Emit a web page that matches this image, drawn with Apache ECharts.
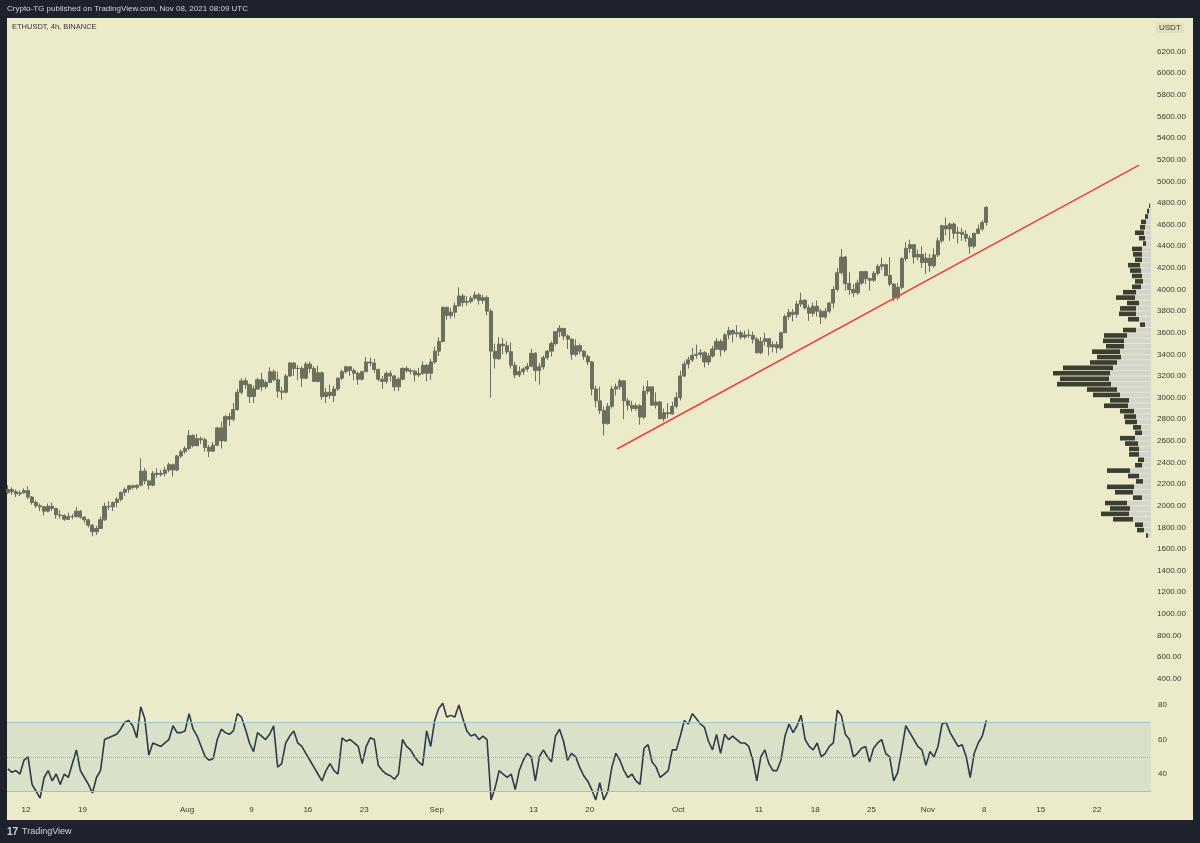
<!DOCTYPE html>
<html>
<head>
<meta charset="utf-8">
<title>ETHUSDT, 4h, BINANCE</title>
<script src="https://cdn.jsdelivr.net/npm/echarts@6/dist/echarts.min.js"></script>
<style>
  html, body { margin: 0; padding: 0; background: #1e222d; }
  #chart { width: 1200px; height: 843px; }
</style>
</head>
<body>
<div id="chart"></div>
<script>
// 12h candles, first one opens Jul 9 2021 12:00 UTC
var firstOpen = 2120;
var closes = [
  2150,
  2130,2110, 2120,2140, 2080,2030, 2000,1990, 1950,1995, 1975,1915, 1910,1875, 1900,1900, 1950,1895, 1870,1820, 1760,1790,
  1870,1995, 1990,2030, 2060,2125, 2150,2185, 2170,2190, 2320,2230, 2190,2300, 2290,2300, 2330,2380, 2330,2460, 2500,2530,
  // Aug
  2650,2555, 2620,2610, 2540,2505, 2560,2720, 2600,2825, 2800,2890, 3050,3155, 3120,3010, 3080,3165, 3100,3140, 3240,3165,
  3060,3050, 3200,3320, 3270,3270, 3180,3310, 3270,3150, 3230,3010, 3050,3020, 3080,3180, 3240,3285, 3250,3225, 3170,3240,
  3330,3320, 3260,3170, 3150,3225, 3200,3100, 3170,3270, 3250,3245, 3210,3225, 3300,3225, 3330,3430,
  // Sep
  3520,3835, 3760,3790, 3850,3940, 3880,3890, 3920,3950, 3900,3925, 3800,3430, 3360,3495, 3480,3425, 3300,3210,
  3240,3265, 3290,3410, 3250,3285, 3370,3430, 3500,3610, 3640,3570, 3540,3400, 3480,3430, 3380,3330, 3080,2970,
  2880,2760, 2920,3080, 3100,3155, 2970,2930, 2900,2925, 2820,3060, 3100,2930, 2960,2805, 2860,2850, 2920,3000,
  // Oct
  3200,3310, 3350,3390, 3400,3415, 3330,3385, 3450,3520, 3440,3580, 3620,3590, 3600,3560, 3580,3575, 3540,3415,
  3520,3545, 3470,3490, 3460,3600, 3750,3790, 3770,3865, 3900,3830, 3780,3845, 3800,3745, 3800,3875, 4000,4155,
  4300,4055, 4000,3970, 4060,4165, 4100,4085, 4150,4215, 4230,4130, 4050,3925, 4020,4285, 4380,4415, 4300,4325, 4250,4290,
  // Nov
  4220,4320, 4450,4590, 4560,4605, 4520,4530, 4510,4475, 4400,4520, 4560,4620, 4760
];
var highs = [
  2190,
  2170,2150, 2140,2160, 2180,2090, 2050,2020, 2000,2020, 2030,1980, 1960,1920, 1935,1925, 1990,1960, 1900,1880, 1830,1815,
  1900,2030, 2045,2040, 2080,2130, 2170,2190, 2195,2195, 2440,2350, 2240,2320, 2345,2330, 2360,2400, 2390,2470, 2520,2550,
  2700,2660, 2665,2640, 2630,2560, 2590,2730, 2780,2840, 2860,2950, 3080,3180, 3185,3130, 3110,3185, 3230,3160, 3280,3260,
  3240,3100, 3220,3330, 3330,3300, 3290,3330, 3335,3290, 3295,3240, 3090,3120, 3110,3185, 3260,3295, 3275,3270, 3240,3250,
  3375,3370, 3360,3270, 3200,3245, 3250,3210, 3190,3280, 3290,3270, 3260,3275, 3335,3310, 3360,3470,
  3560,3840, 3840,3830, 3880,4020, 3960,3940, 3940,3980, 3970,3950, 3945,3820, 3500,3560, 3550,3520, 3510,3330,
  3290,3280, 3320,3450, 3420,3320, 3390,3440, 3520,3610, 3670,3640, 3585,3550, 3540,3500, 3440,3400, 3340,3110,
  3100,2920, 2950,3110, 3130,3175, 3160,3000, 2970,2950, 2940,3110, 3160,3100, 3050,2970, 2900,2950, 2960,3050,
  3250,3340, 3380,3460, 3490,3450, 3430,3410, 3480,3550, 3540,3600, 3655,3630, 3670,3620, 3620,3630, 3610,3560,
  3560,3600, 3550,3520, 3520,3610, 3770,3820, 3820,3895, 3970,3910, 3860,3880, 3900,3820, 3830,3880, 4030,4200,
  4375,4310, 4160,4050, 4090,4170, 4175,4110, 4170,4235, 4295,4240, 4300,4060, 4060,4300, 4440,4460, 4420,4370, 4400,4340,
  4330,4380, 4480,4600, 4665,4620, 4620,4580, 4570,4550, 4500,4520, 4600,4640, 4770
];
var lows = [
  2110,
  2100,2080, 2090,2110, 2060,2010, 1980,1950, 1910,1940, 1950,1880, 1880,1860, 1870,1875, 1890,1880, 1840,1800, 1718,1730,
  1785,1860, 1960,1950, 1985,2040, 2090,2120, 2150,2150, 2180,2200, 2150,2180, 2260,2270, 2270,2310, 2270,2320, 2440,2480,
  2510,2540, 2550,2570, 2500,2450, 2500,2550, 2530,2590, 2740,2780, 2880,3030, 3080,2950, 2950,3070, 3060,3080, 3140,3150,
  3000,2980, 3040,3190, 3200,3160, 3100,3170, 3230,3150, 3140,2980, 2950,2990, 2960,3060, 3160,3220, 3200,3160, 3120,3160,
  3240,3290, 3230,3150, 3080,3130, 3150,3060, 3060,3160, 3230,3215, 3150,3190, 3210,3150, 3165,3310,
  3385,3510, 3720,3730, 3740,3840, 3840,3850, 3870,3900, 3860,3870, 3760,3000, 3270,3350, 3400,3400, 3270,3180,
  3190,3210, 3240,3280, 3150,3120, 3260,3350, 3380,3480, 3560,3530, 3450,3350, 3380,3400, 3350,3300, 3020,2910,
  2850,2650, 2750,2900, 3020,3070, 2800,2880, 2870,2880, 2750,2800, 3030,2930, 2900,2800, 2780,2810, 2840,2900,
  2975,3190, 3270,3330, 3360,3370, 3280,3300, 3370,3440, 3380,3420, 3540,3510, 3560,3540, 3540,3550, 3500,3410,
  3400,3480, 3390,3420, 3410,3440, 3600,3720, 3705,3740, 3840,3815, 3710,3750, 3750,3680, 3725,3780, 3825,3980,
  4140,3990, 3950,3930, 3950,4040, 4050,3990, 4070,4130, 4180,4120, 4030,3890, 3900,4000, 4260,4340, 4240,4270, 4200,4145,
  4160,4200, 4300,4430, 4500,4450, 4470,4425, 4450,4440, 4330,4380, 4510,4540, 4590
];
// RSI(14), one reading per 12h candle
var rsi = [
  43,
  41,42, 40,48, 50,34, 30,26, 38,42, 36,40, 34,40, 38,46, 54,42, 38,34, 29,38,
  42,60, 61,62, 63,66, 70,71, 68,61, 79,72, 51,58, 57,56, 58,60, 68,64, 64,65,
  75,66, 62,56, 50,48, 49,60, 66,64, 63,65, 75,73, 66,58, 53,64, 62,60, 63,68,
  44,46, 58,62, 65,58, 56,52, 48,44, 40,36, 42,46, 42,40, 61,59, 60,58, 56,46,
  56,61, 60,45, 42,40, 39,37, 40,60, 56,54, 50,47, 45,65, 56,71,
  78,81, 73,74, 73,80, 72,65, 62,63, 60,62, 60,25, 32,42, 40,38, 40,31,
  42,48, 52,50, 36,50, 54,50, 47,62, 66,59, 48,52, 50,44, 39,36, 31,25,
  35,25, 30,44, 52,48, 42,38, 40,36, 34,55, 57,47, 44,38, 40,42, 54,54,
  62,71, 69,75, 72,69, 67,59, 54,63, 52,63, 60,62, 60,58, 58,56, 48,36,
  50,54, 46,42, 42,48, 62,69, 64,68, 74,60, 56,54, 58,50, 52,56, 58,77,
  74,63, 60,50, 52,55, 56,47, 55,58, 60,52, 50,36, 41,54, 68,64, 60,56, 54,45,
  53,50, 56,69, 70,64, 60,56, 57,50, 38,52, 58,62, 71
];
var rsiLevels = [30, 50, 70];

// volume profile, 50 USDT rows from 1700 upward (relative volume)
var profileRows = [];
for (var p = 1700; p < 4800; p += 50) profileRows.push(p);
var profileLight = [
  3, 7, 8, 18, 22, 21, 24, 9, 18, 17, 8, 12, 21, 9, 7, 12, 12, 13, 16, 9,
  10, 14, 15, 17, 23, 22, 31, 34, 40, 42, 41, 38, 34, 30, 31, 27, 27, 24, 15, 6,
  12, 15, 15, 12, 16, 15, 10, 8, 9, 10, 11, 9, 9, 9, 5, 6, 7, 6, 5, 3, 2, 1
];
var profileDark = [
  2, 7, 8, 20, 28, 20, 22, 9, 18, 27, 7, 11, 23, 7, 6, 10, 10, 13, 15, 7,
  8, 12, 12, 14, 24, 19, 27, 30, 54, 49, 57, 50, 27, 24, 28, 18, 21, 23, 13, 5,
  11, 17, 16, 12, 19, 13, 9, 8, 10, 11, 12, 7, 9, 10, 3, 6, 9, 5, 5, 3, 2, 1
];

// hand-drawn support line [time, price]
var trendLine = [[Date.UTC(2021, 8, 23, 9, 20), 2525], [Date.UTC(2021, 10, 27, 5), 5151]];

var tickLabels = ['12', '19', 'Aug', '9', '16', '23', 'Sep', '13', '20', 'Oct', '11', '18', '25', 'Nov', '8', '15', '22'];
var tickDates = [
  [6, 12], [6, 19], [7, 1], [7, 9], [7, 16], [7, 23], [8, 1], [8, 13], [8, 20],
  [9, 1], [9, 11], [9, 18], [9, 25], [10, 1], [10, 8], [10, 15], [10, 22]
];

var HOUR = 3600 * 1000;
var start = Date.UTC(2021, 6, 9, 12);
var candles = closes.map(function (c, i) {
  var t = start + i * 12 * HOUR + 6 * HOUR;
  var o = i === 0 ? firstOpen : closes[i - 1];
  return [t, o, c, lows[i], highs[i]];
});
var rsiData = rsi.map(function (v, i) {
  return [start + i * 12 * HOUR + 6 * HOUR, v];
});
var tickValues = tickDates.map(function (d) { return Date.UTC(2021, d[0], d[1]); });
var tickMap = {};
tickValues.forEach(function (v, i) { tickMap[v] = tickLabels[i]; });

var xMin = Date.UTC(2021, 6, 9, 15, 20);
var xMax = Date.UTC(2021, 10, 28, 16, 48);
var textColor = '#3a3a30';
var font = 'Liberation Sans, Arial, sans-serif';
var candleColor = '#6d6f5f';

var chart = echarts.init(document.getElementById('chart'));
chart.setOption({
  backgroundColor: '#1e222d',
  animation: false,
  textStyle: { fontFamily: font },
  grid: [
    { left: 7, right: 49, top: 30, height: 692 },
    { left: 7, right: 49, top: 696.4, height: 103.5 },
    { left: 951, right: 49, top: 203, height: 335.2 }
  ],
  xAxis: [
    {
      type: 'value', gridIndex: 0, min: xMin, max: xMax,
      axisLine: { show: false }, axisTick: { show: false },
      axisLabel: { show: false }, splitLine: { show: false }
    },
    {
      type: 'value', gridIndex: 1, min: xMin, max: xMax,
      axisLine: { show: false }, axisTick: { show: false },
      splitLine: { show: false },
      axisLabel: {
        customValues: tickValues,
        margin: 6, fontSize: 8, color: textColor, fontFamily: font,
        formatter: function (v) { return tickMap[v] || ''; }
      }
    },
    {
      type: 'value', gridIndex: 2, inverse: true, min: 0, max: 200, show: false
    }
  ],
  yAxis: [
    {
      type: 'value', gridIndex: 0, position: 'right', min: 0, max: 6400, interval: 200,
      axisLine: { show: false }, axisTick: { show: false }, splitLine: { show: false },
      axisLabel: {
        margin: 6, fontSize: 8, color: textColor, fontFamily: font,
        formatter: function (v) { return (v >= 400 && v <= 6200) ? v.toFixed(2) : ''; }
      }
    },
    {
      type: 'value', gridIndex: 1, position: 'right', min: 25, max: 85, interval: 5,
      axisLine: { show: false }, axisTick: { show: false }, splitLine: { show: false },
      axisLabel: {
        margin: 7, fontSize: 8, color: textColor, fontFamily: font,
        formatter: function (v) { return (v % 20 === 0 && v >= 40) ? String(v) : ''; }
      }
    },
    {
      type: 'category', gridIndex: 2, data: profileRows, show: false
    }
  ],
  series: [
    {
      type: 'bar', xAxisIndex: 2, yAxisIndex: 2, stack: 'vp',
      data: profileLight, barCategoryGap: '15%',
      itemStyle: { color: '#d3d4cb' }, silent: true, z: 1
    },
    {
      type: 'bar', xAxisIndex: 2, yAxisIndex: 2, stack: 'vp',
      data: profileDark, barCategoryGap: '15%',
      itemStyle: { color: '#3c3e32' }, silent: true, z: 1
    },
    {
      type: 'candlestick', xAxisIndex: 0, yAxisIndex: 0,
      data: candles, encode: { x: 0, y: [1, 2, 3, 4] },
      barWidth: 3.6,
      itemStyle: {
        color: candleColor, color0: candleColor,
        borderColor: candleColor, borderColor0: candleColor, borderWidth: 1
      },
      z: 3
    },
    {
      type: 'line', xAxisIndex: 0, yAxisIndex: 0, data: trendLine,
      symbol: 'none', lineStyle: { color: '#e8413d', width: 1.5 }, z: 4
    },
    {
      type: 'line', xAxisIndex: 1, yAxisIndex: 1, data: rsiData,
      symbol: 'none', lineStyle: { color: '#2f394a', width: 1.6 }, z: 4,
      markArea: {
        silent: true,
        itemStyle: { color: '#d9e2c9' },
        data: [[{ yAxis: rsiLevels[0] }, { yAxis: rsiLevels[2] }]]
      },
      markLine: {
        silent: true, symbol: 'none', label: { show: false },
        data: [
          { yAxis: rsiLevels[0], lineStyle: { color: '#9dc3cb', width: 1, type: 'solid' } },
          { yAxis: rsiLevels[1], lineStyle: { color: '#a9ad9c', width: 1, type: 'dotted' } },
          { yAxis: rsiLevels[2], lineStyle: { color: '#9dc3cb', width: 1, type: 'solid' } }
        ]
      }
    }
  ],
  graphic: [
    {
      type: 'rect', left: 7, top: 18, z: -10, silent: true,
      shape: { width: 1186, height: 802 },
      style: { fill: '#ebebc9' }
    },
    {
      type: 'text', left: 7, top: 5, z: 100,
      style: { text: 'Crypto-TG published on TradingView.com, Nov 08, 2021 08:09 UTC', fill: '#d1d4dc', font: '8px ' + font }
    },
    {
      type: 'text', left: 12, top: 23, z: 100,
      style: { text: 'ETHUSDT, 4h, BINANCE', fill: '#33352c', font: '7.5px ' + font }
    },
    {
      type: 'text', left: 1156, top: 23, z: 100,
      style: {
        text: 'USDT', fill: '#3d3d33', font: '8px ' + font,
        backgroundColor: '#e0e0bf', padding: [1, 3], borderRadius: 2
      }
    },
    {
      type: 'text', left: 7, top: 827, z: 100,
      style: { text: '17', fill: '#d1d4dc', font: 'bold 10px ' + font }
    },
    {
      type: 'text', left: 22, top: 827, z: 100,
      style: { text: 'TradingView', fill: '#d1d4dc', font: '9px ' + font }
    }
  ]
});
</script>
</body>
</html>
